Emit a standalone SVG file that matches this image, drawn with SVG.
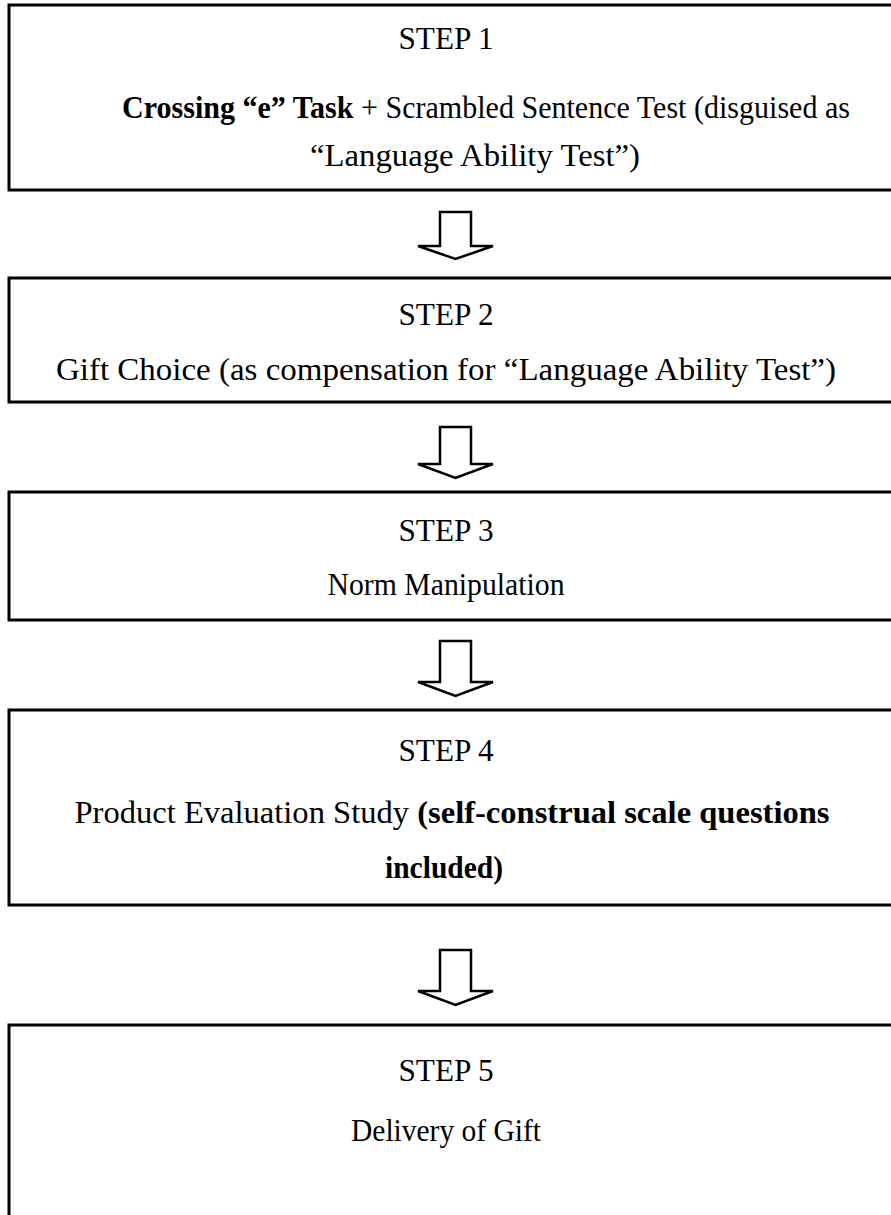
<svg xmlns="http://www.w3.org/2000/svg" width="891" height="1215" viewBox="0 0 891 1215">
<style>
.box{fill:#fff;stroke:#000;stroke-width:3}
.arr{fill:#fff;stroke:#000;stroke-width:2.5;stroke-linejoin:miter}
text{font-family:"Liberation Serif","Times New Roman",serif;font-size:31px;fill:#000;text-anchor:middle}
.b{font-weight:bold}
</style>
<rect width="891" height="1215" fill="#fff"/>
<g id="connectors">
<polygon class="arr" points="440,212 471,212 471,246 493,246 455.5,259 418,246 440,246"/>
<polygon class="arr" points="440,427 471,427 471,464 493,464 455.5,478 418,464 440,464"/>
<polygon class="arr" points="440,641 471,641 471,682 493,682 455.5,696 418,682 440,682"/>
<polygon class="arr" points="440,950 471,950 471,991 493,991 455.5,1005 418,991 440,991"/>
</g>
<g id="step1">
<rect class="box" x="9" y="5" width="900" height="185"/>
<text x="446" y="49" textLength="95" lengthAdjust="spacingAndGlyphs">STEP 1</text>
<text x="486" y="118" textLength="728" lengthAdjust="spacingAndGlyphs"><tspan class="b">Crossing “e” Task</tspan> + Scrambled Sentence Test (disguised as</text>
<text x="475" y="166" textLength="330" lengthAdjust="spacingAndGlyphs">“Language Ability Test”)</text>
</g>
<g id="step2">
<rect class="box" x="9" y="278" width="900" height="124"/>
<text x="446" y="325" textLength="95" lengthAdjust="spacingAndGlyphs">STEP 2</text>
<text x="446" y="380" textLength="780" lengthAdjust="spacingAndGlyphs">Gift Choice (as compensation for “Language Ability Test”)</text>
</g>
<g id="step3">
<rect class="box" x="9" y="492" width="900" height="128"/>
<text x="446" y="541" textLength="95" lengthAdjust="spacingAndGlyphs">STEP 3</text>
<text x="446" y="595" textLength="237" lengthAdjust="spacingAndGlyphs">Norm Manipulation</text>
</g>
<g id="step4">
<rect class="box" x="9" y="710" width="900" height="195"/>
<text x="446" y="761" textLength="95" lengthAdjust="spacingAndGlyphs">STEP 4</text>
<text x="452" y="823" textLength="755" lengthAdjust="spacingAndGlyphs">Product Evaluation Study <tspan class="b">(self-construal scale questions</tspan></text>
<text x="444" y="878" class="b" textLength="118" lengthAdjust="spacingAndGlyphs">included)</text>
</g>
<g id="step5">
<rect class="box" x="9" y="1025" width="900" height="220"/>
<text x="446" y="1081" textLength="95" lengthAdjust="spacingAndGlyphs">STEP 5</text>
<text x="446" y="1141" textLength="190" lengthAdjust="spacingAndGlyphs">Delivery of Gift</text>
</g>
</svg>
